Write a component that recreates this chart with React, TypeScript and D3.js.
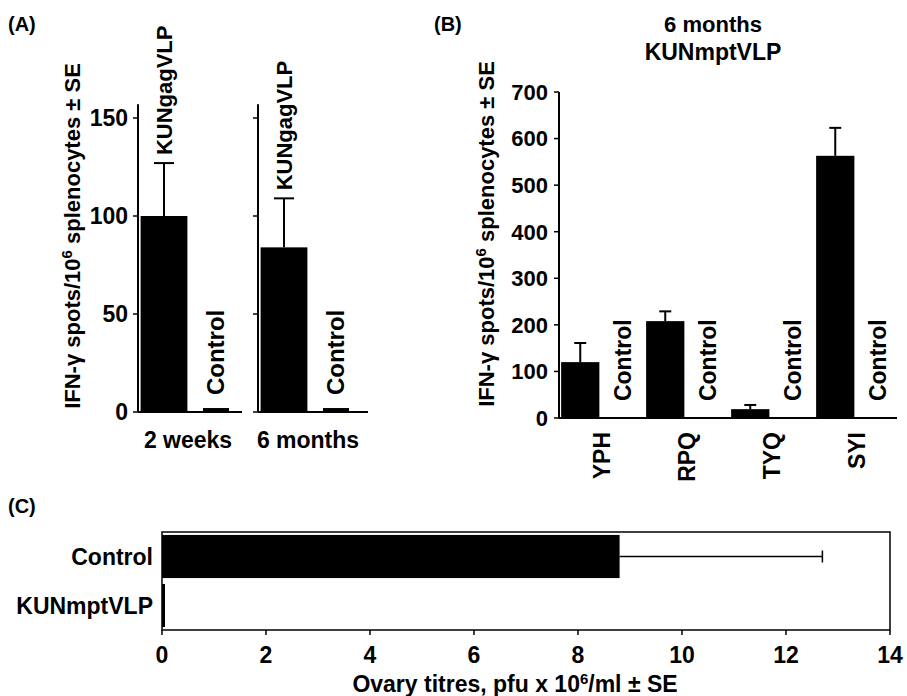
import { useRef, useEffect } from "react"
import * as d3 from "d3"

// Panel A: IFN-gamma ELISPOT after KUNgagVLP
const aGroups = ["2 weeks", "6 months"]
const aBars = ["KUNgagVLP", "Control"]
const aVaccine = [100, 84]
const aVaccineSE = [27, 25]
const aControl = [1, 1]
const aTicks = [0, 50, 100, 150]

// Panel B: 6 months KUNmptVLP, peptides
const peptides = ["YPH", "RPQ", "TYQ", "SYI"]
const peptideValues = [120, 208, 19, 563]
const peptideSE = [41, 21, 9, 60]
const peptideControl = [2, 2, 2, 2]
const bTicks = [0, 100, 200, 300, 400, 500, 600, 700]

// Panel C: ovary titres
const titreGroups = ["Control", "KUNmptVLP"]
const titreValues = [8.8, 0.05]
const titreSE = [3.9, 0]
const cTicks = [0, 2, 4, 6, 8, 10, 12, 14]

const FONT = "'Liberation Sans', Arial, Helvetica, sans-serif"

const App = () => {
  const svgRef = useRef<SVGSVGElement>(null)

  useEffect(() => {
    const svg = d3.select(svgRef.current)
    svg.selectAll("*").remove()
    svg.attr("font-family", FONT).attr("font-weight", "bold").attr("fill", "black")

    // y-axis label with superscript
    const yLabel = (x: number, y: number) => {
      const t = svg
        .append("text")
        .attr("transform", `translate(${x},${y}) rotate(-90)`)
        .attr("text-anchor", "middle")
        .style("font-size", "22px")
      t.append("tspan").text("IFN-γ spots/10")
      t.append("tspan").attr("dy", -8).style("font-size", "15px").text("6")
      t.append("tspan").attr("dy", 8).text(" splenocytes ± SE")
    }

    // panel letters
    svg.append("text").attr("x", 8).attr("y", 31).style("font-size", "20px").text("(A)")
    svg.append("text").attr("x", 434).attr("y", 31).style("font-size", "20px").text("(B)")
    svg.append("text").attr("x", 8).attr("y", 513).style("font-size", "20px").text("(C)")

    // ---------- Panel A ----------
    const yA = d3.scaleLinear().domain([0, 150]).range([412, 118])
    const aOrigins = [138, 258]
    const aWidths = [104, 110]

    yLabel(80, 236)

    aGroups.forEach((g, i) => {
      const x0 = aOrigins[i]
      const xb = d3
        .scaleBand()
        .domain(aBars)
        .range([x0, x0 + 104])
        .paddingInner(0.1)
        .paddingOuter(0.05)
      const gA = svg.append("g")

      // axis line
      gA.append("line")
        .attr("x1", x0).attr("x2", x0)
        .attr("y1", yA(0)).attr("y2", yA(157))
        .attr("stroke", "black").attr("stroke-width", 2)
      // baseline
      gA.append("line")
        .attr("x1", x0).attr("x2", x0 + aWidths[i])
        .attr("y1", yA(0)).attr("y2", yA(0))
        .attr("stroke", "black").attr("stroke-width", 2)
      // ticks
      aTicks.forEach((t) => {
        gA.append("line")
          .attr("x1", x0 - 5).attr("x2", x0)
          .attr("y1", yA(t)).attr("y2", yA(t))
          .attr("stroke", "black").attr("stroke-width", 1.5)
        if (i === 0) {
          gA.append("text")
            .attr("x", x0 - 10).attr("y", yA(t)).attr("dy", "0.36em")
            .attr("text-anchor", "end")
            .style("font-size", "23px")
            .text(t)
        }
      })

      // vaccine bar
      const bx = xb("KUNgagVLP")!
      const bw = xb.bandwidth()
      const cx = bx + bw / 2
      const top = aVaccine[i] + aVaccineSE[i]
      gA.append("line")
        .attr("x1", cx).attr("x2", cx)
        .attr("y1", yA(aVaccine[i])).attr("y2", yA(top))
        .attr("stroke", "black").attr("stroke-width", 2)
      gA.append("line")
        .attr("x1", cx - 10).attr("x2", cx + 10)
        .attr("y1", yA(top)).attr("y2", yA(top))
        .attr("stroke", "black").attr("stroke-width", 2)
      gA.append("rect")
        .attr("x", bx).attr("y", yA(aVaccine[i]))
        .attr("width", bw).attr("height", yA(0) - yA(aVaccine[i]))
        .attr("fill", "black")
      gA.append("text")
        .attr("transform", `translate(${cx + 8},${yA(top) - 8}) rotate(-90)`)
        .style("font-size", "22px")
        .text("KUNgagVLP")

      // control bar
      const ccx = xb("Control")! + xb.bandwidth() / 2
      const cw = 26
      gA.append("rect")
        .attr("x", ccx - cw / 2).attr("y", yA(aControl[i]) - 2)
        .attr("width", cw).attr("height", yA(0) - yA(aControl[i]) + 2)
        .attr("fill", "black")
      gA.append("text")
        .attr("transform", `translate(${ccx + 8},${yA(aControl[i]) - 15}) rotate(-90)`)
        .style("font-size", "24px")
        .text("Control")

      // group label
      gA.append("text")
        .attr("x", x0 + 50).attr("y", 448)
        .attr("text-anchor", "middle")
        .style("font-size", "23px")
        .text(g)
    })

    // ---------- Panel B ----------
    const yB = d3.scaleLinear().domain([0, 700]).range([418, 92])
    const x0B = d3.scaleBand().domain(peptides).range([559, 899])
    const x1B = d3
      .scaleBand()
      .domain(["peptide", "control"])
      .range([0, x0B.bandwidth()])
      .paddingInner(0.1)
      .paddingOuter(0.05)
    const gB = svg.append("g")

    yLabel(494, 234)

    gB.append("text").attr("x", 713).attr("y", 32).attr("text-anchor", "middle")
      .style("font-size", "22px").text("6 months")
    gB.append("text").attr("x", 713).attr("y", 60).attr("text-anchor", "middle")
      .style("font-size", "23px").text("KUNmptVLP")

    gB.append("line")
      .attr("x1", 559).attr("x2", 559)
      .attr("y1", yB(0)).attr("y2", yB(700))
      .attr("stroke", "black").attr("stroke-width", 2)
    gB.append("line")
      .attr("x1", 559).attr("x2", 897)
      .attr("y1", yB(0)).attr("y2", yB(0))
      .attr("stroke", "black").attr("stroke-width", 2)
    bTicks.forEach((t) => {
      gB.append("line")
        .attr("x1", 554).attr("x2", 559)
        .attr("y1", yB(t)).attr("y2", yB(t))
        .attr("stroke", "black").attr("stroke-width", 1.5)
      gB.append("text")
        .attr("x", 548).attr("y", yB(t)).attr("dy", "0.36em")
        .attr("text-anchor", "end")
        .style("font-size", "22px")
        .text(t)
    })

    peptides.forEach((p, i) => {
      const gx = x0B(p)!
      const bx = gx + x1B("peptide")!
      const bw = x1B.bandwidth()
      const cx = bx + bw / 2
      const top = peptideValues[i] + peptideSE[i]
      gB.append("line")
        .attr("x1", cx).attr("x2", cx)
        .attr("y1", yB(peptideValues[i])).attr("y2", yB(top))
        .attr("stroke", "black").attr("stroke-width", 2)
      gB.append("line")
        .attr("x1", cx - 6).attr("x2", cx + 6)
        .attr("y1", yB(top)).attr("y2", yB(top))
        .attr("stroke", "black").attr("stroke-width", 2)
      gB.append("rect")
        .attr("x", bx).attr("y", yB(peptideValues[i]))
        .attr("width", bw).attr("height", yB(0) - yB(peptideValues[i]))
        .attr("fill", "black")

      const ccx = gx + x1B("control")! + x1B.bandwidth() / 2
      const cw = 18
      gB.append("rect")
        .attr("x", ccx - cw / 2).attr("y", yB(peptideControl[i]))
        .attr("width", cw).attr("height", yB(0) - yB(peptideControl[i]))
        .attr("fill", "black")
      gB.append("text")
        .attr("transform", `translate(${ccx + 8},${yB(peptideControl[i]) - 16}) rotate(-90)`)
        .style("font-size", "23px")
        .text("Control")

      gB.append("text")
        .attr("transform", `translate(${gx + x0B.bandwidth() / 2 + 8},${yB(0) + 14}) rotate(-90)`)
        .attr("text-anchor", "end")
        .style("font-size", "23px")
        .text(p)
    })

    // ---------- Panel C ----------
    const xC = d3.scaleLinear().domain([0, 14]).range([162, 890])
    const yC = d3
      .scaleBand()
      .domain(titreGroups)
      .range([532, 630])
      .paddingInner(0.12)
      .paddingOuter(0.06)
    const gC = svg.append("g")

    titreGroups.forEach((g, i) => {
      const by = yC(g)!
      const bh = yC.bandwidth()
      const cy = by + bh / 2
      gC.append("rect")
        .attr("x", xC(0)).attr("y", by)
        .attr("width", Math.max(3, xC(titreValues[i]) - xC(0))).attr("height", bh)
        .attr("fill", "black")
      if (titreSE[i] > 0) {
        const end = xC(titreValues[i] + titreSE[i])
        gC.append("line")
          .attr("x1", xC(titreValues[i])).attr("x2", end)
          .attr("y1", cy).attr("y2", cy)
          .attr("stroke", "black").attr("stroke-width", 1.5)
        gC.append("line")
          .attr("x1", end).attr("x2", end)
          .attr("y1", cy - 6).attr("y2", cy + 6)
          .attr("stroke", "black").attr("stroke-width", 1.5)
      }
      gC.append("text")
        .attr("x", 153).attr("y", cy).attr("dy", "0.36em")
        .attr("text-anchor", "end")
        .style("font-size", "23px")
        .text(g)
    })

    gC.append("rect")
      .attr("x", 162).attr("y", 532)
      .attr("width", 890 - 162).attr("height", 630 - 532)
      .attr("fill", "none").attr("stroke", "black").attr("stroke-width", 1.5)

    cTicks.forEach((t) => {
      gC.append("line")
        .attr("x1", xC(t)).attr("x2", xC(t))
        .attr("y1", 630).attr("y2", 635)
        .attr("stroke", "black").attr("stroke-width", 1.5)
      gC.append("text")
        .attr("x", xC(t)).attr("y", 663)
        .attr("text-anchor", "middle")
        .style("font-size", "23px")
        .text(t)
    })

    const xt = gC.append("text")
      .attr("x", 515).attr("y", 692)
      .attr("text-anchor", "middle")
      .style("font-size", "23px")
    xt.append("tspan").text("Ovary titres, pfu x 10")
    xt.append("tspan").attr("dy", -8).style("font-size", "15px").text("6")
    xt.append("tspan").attr("dy", 8).text("/ml ± SE")
  }, [])

  return (
    <svg
      ref={svgRef}
      width={907}
      height={696}
      style={{ position: "absolute", left: 0, top: 0, background: "white" }}
    ></svg>
  )
}

export default App
